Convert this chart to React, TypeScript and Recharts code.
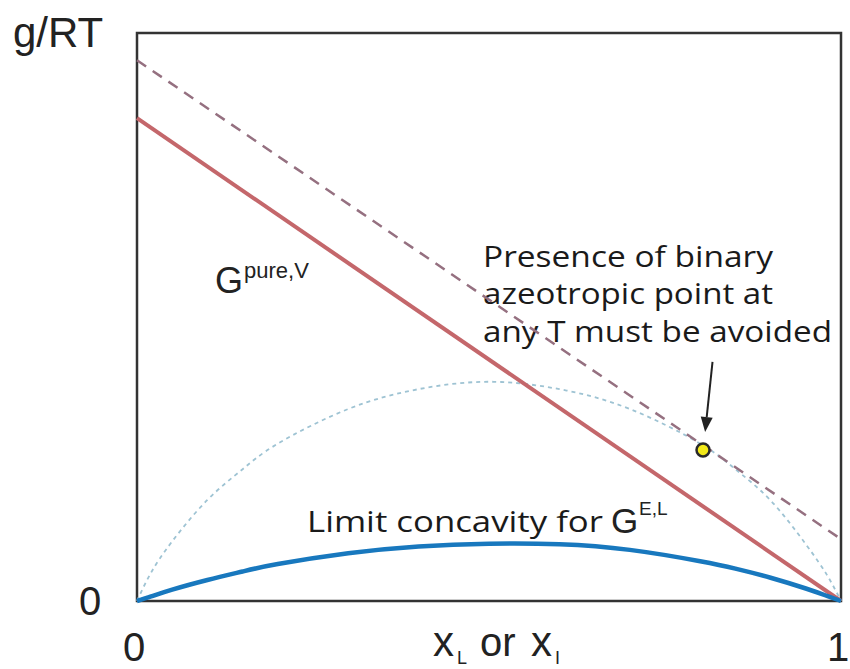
import React from 'react'
import {
    LineChart,
    Line,
    XAxis,
    YAxis,
    ReferenceArea,
    ReferenceLine,
    ReferenceDot,
    Customized,
} from 'recharts'

// composition grid shared by the two curved series
const xGrid = [0, 0.02, 0.05, 0.1, 0.15, 0.2, 0.3, 0.4, 0.5, 0.6, 0.7, 0.8, 0.85, 0.9, 0.95, 0.98, 1]
const arcValues = [0, 0.05, 0.105, 0.178, 0.232, 0.277, 0.338, 0.373, 0.386, 0.373, 0.338, 0.277, 0.232, 0.177, 0.1, 0.046, 0]
const limitValues = [0, 0.008, 0.02, 0.037, 0.052, 0.065, 0.084, 0.096, 0.101, 0.1, 0.09, 0.07, 0.057, 0.041, 0.022, 0.009, 0]

// straight lines: ends at x = 0 and x = 1
const lineEnds = [0, 1]
const pureVapour = [0.85, 0]
const dashedValues = [0.952, 0.109]

// azeotrope marker and the arrow pointing at it
const azeoPoint = { x: 0.804, y: 0.266 }
const arrowEnds = [
    { x: 0.8175, y: 0.421 },
    { x: 0.807, y: 0.2975 },
]

const xTicks = [0, 1]
const yTicks = [0]

const toRows = (xs: number[], ys: number[]) => xs.map((x, i) => ({ x, y: ys[i] }))

const arcData = toRows(xGrid, arcValues)
const limitData = toRows(xGrid, limitValues)
const solidData = toRows(lineEnds, pureVapour)
const dashedData = toRows(lineEnds, dashedValues)

const ARIAL = '"Liberation Sans", Arial, sans-serif'
const BODY = '"Open Sans", "Noto Sans", sans-serif'

const XTick = (props: any) => {
    const { x, payload } = props
    const shift = payload.value === 1 ? -3 : -3
    return (
        <text x={x + shift} y={661} textAnchor="middle" fontFamily={ARIAL} fontSize={40} fill="#222">
            {payload.value}
        </text>
    )
}

const YTick = (props: any) => {
    const { y, payload } = props
    return (
        <text x={90} y={y + 14} textAnchor="middle" fontFamily={ARIAL} fontSize={40} fill="#222">
            {payload.value}
        </text>
    )
}

const Arrow = (props: any) => {
    const { x1, y1, x2, y2 } = props
    const dx = x2 - x1
    const dy = y2 - y1
    const len = Math.sqrt(dx * dx + dy * dy)
    const ux = dx / len
    const uy = dy / len
    const headLen = 15
    const headW = 6
    const bx = x2 - ux * headLen
    const by = y2 - uy * headLen
    const pts = `${x2},${y2} ${bx - uy * headW},${by + ux * headW} ${bx + uy * headW},${by - ux * headW}`
    return (
        <g>
            <line x1={x1} y1={y1} x2={bx} y2={by} stroke="#222" strokeWidth={2} />
            <polygon points={pts} fill="#222" />
        </g>
    )
}

const Annotations = () => (
    <g>
        <text x={13} y={47} fontFamily={ARIAL} fontSize={42} fill="#222">g/RT</text>

        <text x={215} y={293} fontFamily={ARIAL} fontSize={36} fill="#222">G</text>
        <text x={244} y={278} fontFamily={ARIAL} fontSize={22} fill="#222">pure,V</text>

        <text x={483} y={267} fontFamily={BODY} fontSize={29} fill="#1a1a1a" textLength={290} lengthAdjust="spacingAndGlyphs">
            Presence of binary
        </text>
        <text x={483} y={304} fontFamily={BODY} fontSize={29} fill="#1a1a1a" textLength={290} lengthAdjust="spacingAndGlyphs">
            azeotropic point at
        </text>
        <text x={483} y={342} fontFamily={BODY} fontSize={29} fill="#1a1a1a" textLength={349} lengthAdjust="spacingAndGlyphs">
            any T must be avoided
        </text>

        <text x={307} y={532} fontFamily={BODY} fontSize={29} fill="#1a1a1a" textLength={296} lengthAdjust="spacingAndGlyphs">
            Limit concavity for
        </text>
        <text x={611} y={533} fontFamily={ARIAL} fontSize={35} fill="#222">G</text>
        <text x={639} y={515} fontFamily={ARIAL} fontSize={19} fill="#222">E,L</text>

        <text x={433} y={656} fontFamily={ARIAL} fontSize={42} fill="#222">x</text>
        <text x={457} y={664} fontFamily={ARIAL} fontSize={18} fill="#222">L</text>
        <text x={480} y={656} fontFamily={ARIAL} fontSize={40} fill="#222">or</text>
        <text x={531} y={656} fontFamily={ARIAL} fontSize={42} fill="#222">x</text>
        <text x={555} y={664} fontFamily={ARIAL} fontSize={18} fill="#222">I</text>
    </g>
)

export default function App() {
    return (
        <div style={{ position: 'absolute', left: 0, top: 0, width: 850, height: 669, background: '#fff' }}>
            <LineChart width={850} height={669} margin={{ top: 33, right: 9, bottom: 0, left: 0 }}>
                <XAxis
                    type="number"
                    dataKey="x"
                    domain={[0, 1]}
                    ticks={xTicks}
                    height={68}
                    axisLine={false}
                    tickLine={false}
                    tick={<XTick />}
                    allowDuplicatedCategory={false}
                />
                <YAxis
                    type="number"
                    domain={[0, 1]}
                    ticks={yTicks}
                    width={137}
                    axisLine={false}
                    tickLine={false}
                    tick={<YTick />}
                />
                <Line
                    data={arcData}
                    dataKey="y"
                    type="natural"
                    stroke="#9ec3d3"
                    strokeWidth={1.8}
                    strokeDasharray="4 4"
                    dot={false}
                    isAnimationActive={false}
                />
                <Line
                    data={dashedData}
                    dataKey="y"
                    type="linear"
                    stroke="#957080"
                    strokeWidth={2.5}
                    strokeDasharray="11 8"
                    dot={false}
                    isAnimationActive={false}
                />
                <Line
                    data={solidData}
                    dataKey="y"
                    type="linear"
                    stroke="#c4676b"
                    strokeWidth={4}
                    dot={false}
                    isAnimationActive={false}
                />
                <Line
                    data={limitData}
                    dataKey="y"
                    type="natural"
                    stroke="#1878be"
                    strokeWidth={4.5}
                    dot={false}
                    isAnimationActive={false}
                />
                <ReferenceArea x1={0} x2={1} y1={0} y2={1} fill="none" stroke="#333" strokeWidth={2.5} fillOpacity={0} />
                <ReferenceLine segment={arrowEnds} shape={<Arrow />} />
                <ReferenceDot x={azeoPoint.x} y={azeoPoint.y} r={6.5} fill="#f3ea1a" stroke="#2a2a2a" strokeWidth={2.5} />
                <Customized component={Annotations} />
            </LineChart>
        </div>
    )
}
